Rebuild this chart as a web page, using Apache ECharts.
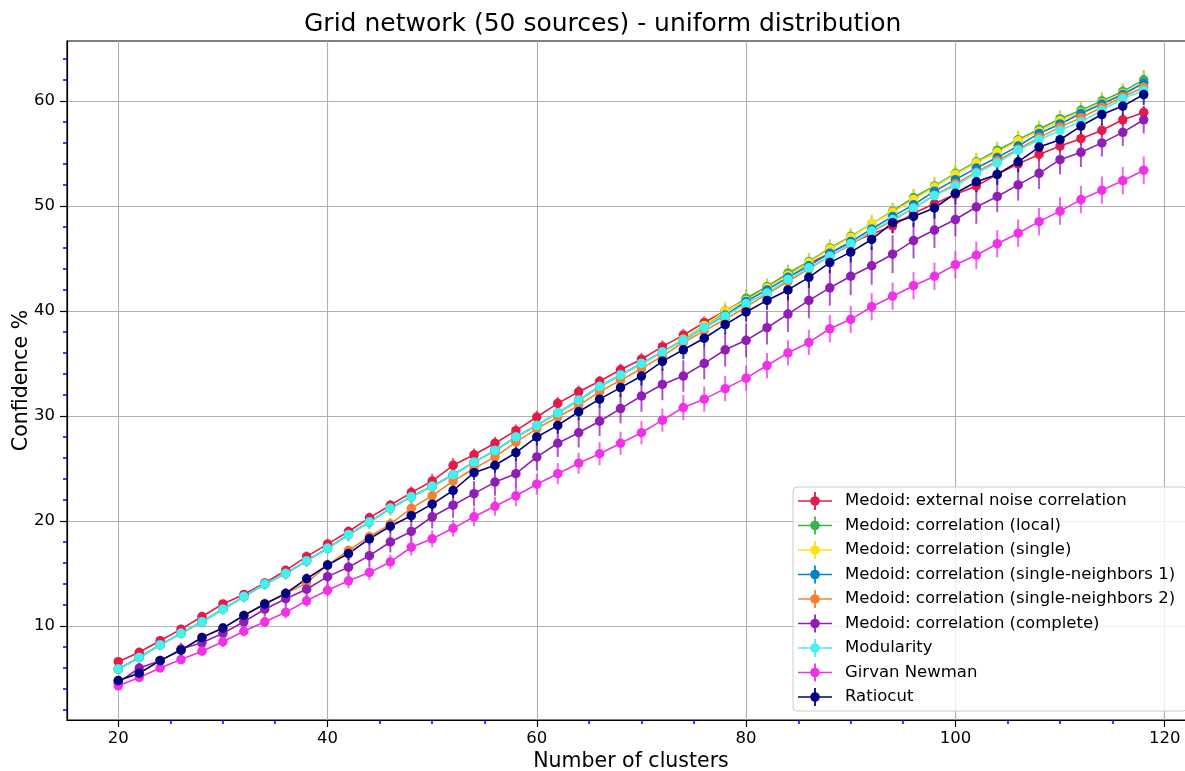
<!DOCTYPE html>
<html>
<head>
<meta charset="utf-8">
<script src="https://cdn.jsdelivr.net/npm/echarts@6/dist/echarts.min.js"></script>
<style>
  html, body { margin: 0; padding: 0; background: #ffffff; }
  #chart { width: 1185px; height: 771px; }
</style>
</head>
<body>
<div id="chart"></div>
<script>
// Number of clusters on the x axis
const clusters = [20,22,24,26,28,30,32,34,36,38,40,42,44,46,48,50,52,54,56,58,
                  60,62,64,66,68,70,72,74,76,78,80,82,84,86,88,90,92,94,96,98,
                  100,102,104,106,108,110,112,114,116,118];

// Mean confidence (%) per method
const externalNoise = [6.6,7.5,8.6,9.7,10.9,12.1,13.0,14.1,15.3,16.6,
  17.8,19.0,20.3,21.5,22.7,23.8,25.3,26.3,27.4,28.6,
  29.9,31.2,32.3,33.3,34.4,35.4,36.6,37.7,38.9,40.0,
  41.1,42.3,43.5,44.5,45.5,46.5,47.3,48.1,49.3,50.2,
  51.1,51.9,53.0,54.0,54.9,55.7,56.4,57.2,58.2,58.9];
const corrLocal = [5.9,7.0,8.2,9.3,10.4,11.6,12.8,14.0,15.0,16.2,
  17.4,18.7,19.9,21.2,22.3,23.3,24.4,25.6,26.7,28.0,
  29.1,30.3,31.5,32.8,33.9,35.0,36.1,37.3,38.6,39.9,
  41.2,42.3,43.6,44.7,46.0,47.1,48.3,49.5,50.8,51.9,
  53.1,54.2,55.3,56.3,57.3,58.3,59.1,60.0,60.9,62.0];
const corrSingle = [5.9,7.0,8.2,9.3,10.4,11.6,12.8,14.0,15.0,16.2,
  17.4,18.7,19.9,21.2,22.3,23.3,24.4,25.6,26.7,28.0,
  29.1,30.3,31.5,32.8,33.9,35.0,36.1,37.3,38.6,40.0,
  41.0,42.2,43.4,44.6,45.9,47.0,48.3,49.4,50.6,51.8,
  53.0,54.1,55.1,56.2,57.1,58.1,58.9,59.8,60.7,61.7];
const corrNeighbors1 = [5.9,7.0,8.2,9.3,10.4,11.6,12.8,14.0,15.0,16.2,
  17.4,18.7,19.9,21.2,22.3,23.3,24.4,25.6,26.7,28.0,
  29.1,30.3,31.5,32.8,33.9,35.0,36.1,37.2,38.4,39.6,
  40.9,42.0,43.2,44.3,45.5,46.6,47.8,49.0,50.1,51.4,
  52.5,53.6,54.6,55.7,56.9,57.8,58.8,59.7,60.6,61.7];
const corrNeighbors2 = [4.8,5.5,6.7,7.7,8.9,9.8,11.0,12.1,13.1,14.1,
  15.8,17.2,18.5,19.7,21.2,22.4,23.8,25.0,26.1,27.5,
  28.8,29.9,31.0,32.3,33.4,34.5,35.7,37.0,38.1,39.2,
  40.4,41.6,42.8,44.0,45.2,46.3,47.5,48.6,49.8,51.0,
  52.1,53.2,54.3,55.4,56.5,57.5,58.4,59.4,60.4,61.3];
const corrComplete = [4.6,6.0,6.7,7.8,8.4,9.3,10.4,11.6,12.6,13.5,
  14.7,15.6,16.7,18.0,19.0,20.4,21.5,22.6,23.7,24.5,
  26.1,27.4,28.4,29.5,30.7,31.9,33.0,33.8,35.0,36.3,
  37.2,38.4,39.7,41.0,42.2,43.3,44.3,45.4,46.7,47.7,
  48.7,49.9,50.9,52.0,53.1,54.4,55.1,56.0,57.0,58.2];
const modularity = [5.9,7.0,8.2,9.3,10.4,11.6,12.8,14.0,15.0,16.2,
  17.4,18.7,19.9,21.2,22.3,23.3,24.4,25.6,26.7,28.0,
  29.1,30.3,31.5,32.8,33.9,35.0,36.1,37.2,38.4,39.5,
  40.7,41.7,43.0,44.1,45.2,46.4,47.6,48.7,49.8,51.0,
  51.9,53.1,54.1,55.3,56.3,57.2,58.0,59.1,60.2,61.0];
const girvanNewman = [4.3,5.1,6.0,6.8,7.6,8.5,9.5,10.4,11.3,12.4,
  13.4,14.3,15.1,16.1,17.5,18.3,19.3,20.4,21.4,22.4,
  23.5,24.5,25.5,26.4,27.4,28.4,29.6,30.8,31.6,32.6,
  33.6,34.8,36.0,37.0,38.3,39.2,40.4,41.4,42.4,43.3,
  44.4,45.3,46.4,47.4,48.5,49.5,50.6,51.5,52.4,53.4];
const ratiocut = [4.8,5.5,6.7,7.7,8.9,9.8,11.0,12.1,13.1,14.5,
  15.8,16.9,18.3,19.5,20.5,21.6,22.9,24.6,25.3,26.5,
  28.0,29.1,30.4,31.6,32.7,33.8,35.2,36.3,37.4,38.7,
  39.9,41.0,42.0,43.2,44.6,45.6,46.8,48.4,49.0,49.8,
  51.2,52.3,53.0,54.2,55.6,56.3,57.6,58.7,59.5,60.6];

// Half-width of the error bar at each point
const errExternalNoise = [0.3,0.3,0.3,0.4,0.3,0.4,0.4,0.4,0.4,0.5,0.5,0.5,0.5,0.5,0.6,0.7,0.7,0.6,0.6,0.6,
  0.6,0.6,0.6,0.5,0.6,0.6,0.6,0.6,0.6,0.6,0.6,0.6,0.6,0.6,0.6,0.6,0.6,0.7,0.6,0.6,
  0.6,0.6,0.6,0.6,0.6,0.6,0.6,0.6,0.6,0.6];
const errCorrLocal = [0.3,0.3,0.4,0.4,0.4,0.4,0.5,0.5,0.5,0.5,0.5,0.6,0.6,0.6,0.6,0.6,0.6,0.6,0.7,0.7,
  0.7,0.7,0.7,0.7,0.7,0.7,0.7,0.8,0.8,0.8,0.8,0.8,0.8,0.8,0.8,0.8,0.8,0.8,0.8,0.8,
  0.8,0.8,0.8,0.8,0.8,0.8,0.8,0.8,0.8,0.9];
const errCorrSingle = [0.4,0.4,0.4,0.5,0.5,0.5,0.5,0.5,0.6,0.6,0.6,0.6,0.7,0.7,0.7,0.7,0.7,0.7,0.7,0.8,
  0.8,0.8,0.8,0.8,0.8,0.8,0.8,0.9,0.9,0.9,0.9,0.9,0.9,0.9,0.9,0.9,0.9,0.9,1.0,1.0,
  1.0,1.0,1.0,1.0,1.0,1.0,1.0,1.0,1.0,1.0];
const errCorrNeighbors1 = [0.3,0.3,0.3,0.4,0.4,0.4,0.4,0.4,0.5,0.5,0.5,0.5,0.5,0.5,0.6,0.6,0.6,0.6,0.6,0.6,
  0.6,0.6,0.6,0.7,0.7,0.7,0.7,0.7,0.7,0.7,0.7,0.7,0.7,0.7,0.7,0.7,0.8,0.8,0.8,0.8,
  0.8,0.8,0.8,0.8,0.8,0.8,0.8,0.8,0.8,0.8];
const errCorrNeighbors2 = [0.3,0.3,0.3,0.4,0.4,0.4,0.4,0.4,0.5,0.5,0.5,0.5,0.5,0.6,0.6,0.6,0.6,0.6,0.6,0.6,
  0.6,0.6,0.7,0.7,0.7,0.7,0.7,0.7,0.7,0.7,0.7,0.7,0.7,0.7,0.7,0.7,0.7,0.8,0.8,0.8,
  0.8,0.8,0.8,0.8,0.8,0.8,0.8,0.8,0.8,0.8];
const errCorrComplete = [0.4,0.5,0.5,0.6,0.6,0.6,0.7,0.7,0.8,0.8,0.9,0.9,1.0,1.0,1.1,1.1,1.2,1.2,1.3,1.4,
  1.3,1.3,1.4,1.4,1.4,1.5,1.5,1.5,1.5,1.6,1.6,1.6,1.7,1.7,1.7,1.8,1.8,1.8,1.7,1.7,
  1.6,1.6,1.5,1.5,1.5,1.4,1.4,1.3,1.3,1.3];
const errModularity = [0.4,0.4,0.5,0.5,0.5,0.5,0.6,0.6,0.6,0.6,0.6,0.7,0.7,0.7,0.7,0.7,0.7,0.7,0.7,0.7,
  0.8,0.8,0.8,0.8,0.8,0.8,0.8,0.8,0.8,0.8,0.8,0.8,0.8,0.8,0.8,0.8,0.8,0.8,0.9,0.9,
  0.9,0.9,0.9,0.9,0.9,0.9,0.9,0.9,0.9,0.9];
const errGirvanNewman = [0.3,0.3,0.4,0.4,0.4,0.5,0.5,0.5,0.6,0.6,0.6,0.7,0.7,0.7,0.8,0.8,0.8,0.9,0.9,1.0,
  1.0,1.0,1.0,1.1,1.1,1.1,1.1,1.2,1.2,1.2,1.2,1.2,1.2,1.2,1.3,1.3,1.3,1.3,1.3,1.3,
  1.3,1.3,1.3,1.3,1.3,1.3,1.3,1.3,1.3,1.3];
const errRatiocut = [0.3,0.3,0.3,0.4,0.4,0.4,0.4,0.5,0.5,0.5,0.5,0.6,0.6,0.6,0.6,0.7,0.7,0.7,0.7,0.8,
  0.8,0.8,0.8,0.8,0.9,0.9,0.9,0.9,0.9,0.9,0.9,0.9,1.0,1.0,1.0,1.0,1.0,1.0,1.0,1.0,
  1.0,1.0,1.0,1.0,1.0,1.0,1.0,1.0,1.0,1.0];

const seriesNames = [
  'Medoid: external noise correlation',
  'Medoid: correlation (local)',
  'Medoid: correlation (single)',
  'Medoid: correlation (single-neighbors 1)',
  'Medoid: correlation (single-neighbors 2)',
  'Medoid: correlation (complete)',
  'Modularity',
  'Girvan Newman',
  'Ratiocut'
];
const seriesColors = ['#e6194b','#3cb44b','#ffe119','#0082c8','#f58231','#911eb4','#46f0f0','#f032e6','#000080'];
const seriesValues = [externalNoise, corrLocal, corrSingle, corrNeighbors1, corrNeighbors2,
                      corrComplete, modularity, girvanNewman, ratiocut];
const seriesErrors = [errExternalNoise, errCorrLocal, errCorrSingle, errCorrNeighbors1, errCorrNeighbors2,
                      errCorrComplete, errModularity, errGirvanNewman, errRatiocut];

// Tick positions
const xMajorTicks = [20, 40, 60, 80, 100, 120];
const xMinorTicks = [25, 30, 35, 45, 50, 55, 65, 70, 75, 85, 90, 95, 105, 110, 115];
const yMajorTicks = [10, 20, 30, 40, 50, 60];
const yMinorTicks = [2, 4, 6, 8, 12, 14, 16, 18, 22, 24, 26, 28, 32, 34, 36, 38,
                     42, 44, 46, 48, 52, 54, 56, 58, 62, 64];

const FONT = 'DejaVu Sans';
const X_MIN = 15.1, X_MAX = 122.9, Y_MIN = 1.05, Y_MAX = 65.7;

// Legend glyph: horizontal line, vertical error bar and a dot
const legendGlyph = 'path://M0 8.2H34V9.8H0Z M16.1 0H17.9V18H16.1Z ' +
  'M21.8 9A4.8 4.8 0 1 1 12.2 9A4.8 4.8 0 1 1 21.8 9Z';

const series = [];
seriesNames.forEach(function (name, k) {
  const color = seriesColors[k];
  const vals = seriesValues[k];
  const errs = seriesErrors[k];
  series.push({
    type: 'custom',
    name: name + ' error',
    silent: true,
    animation: false,
    clip: true,
    data: clusters.map(function (x, i) { return [x, vals[i] - errs[i], vals[i] + errs[i]]; }),
    encode: { x: 0, y: [1, 2] },
    renderItem: function (params, api) {
      const lo = api.coord([api.value(0), api.value(1)]);
      const hi = api.coord([api.value(0), api.value(2)]);
      return {
        type: 'line',
        shape: { x1: lo[0], y1: lo[1], x2: hi[0], y2: hi[1] },
        style: { stroke: color, lineWidth: 2, opacity: 0.75 }
      };
    }
  });
  series.push({
    type: 'line',
    name: name,
    data: clusters.map(function (x, i) { return [x, vals[i]]; }),
    symbol: 'circle',
    symbolSize: 9.5,
    showSymbol: true,
    lineStyle: { width: 1.6, color: color },
    itemStyle: { color: color, borderWidth: 0 },
    emphasis: { disabled: true },
    animation: false
  });
});

const chart = echarts.init(document.getElementById('chart'), null, { renderer: 'canvas' });
chart.setOption({
  backgroundColor: '#ffffff',
  textStyle: { fontFamily: FONT },
  grid: {
    left: 67, right: -10, top: 41, bottom: 51,
    outerBoundsMode: 'none',
    containLabel: false,
    show: true, borderColor: '#000000', borderWidth: 1.2, backgroundColor: 'transparent'
  },
  graphic: [{
    type: 'text',
    left: 603 - 299, top: 12,
    style: {
      text: 'Grid network (50 sources) - uniform distribution',
      font: '25px "DejaVu Sans"', fill: '#000000'
    }
  }],
  legend: {
    orient: 'vertical',
    left: 793, top: 487,
    data: seriesNames.map(function (n, i) {
      return { name: n, icon: legendGlyph, itemStyle: { color: seriesColors[i], borderWidth: 0 } };
    }),
    itemWidth: 34, itemHeight: 20, itemGap: 4.5,
    symbolKeepAspect: true,
    textStyle: { fontFamily: FONT, fontSize: 16.5, color: '#000000', padding: [0, 0, 0, 8], lineHeight: 20 },
    backgroundColor: 'rgba(255,255,255,0.8)',
    borderColor: '#cccccc', borderWidth: 1, borderRadius: 4,
    padding: [4, 12, 4, 5],
    selectedMode: false
  },
  xAxis: [{
    type: 'value', min: X_MIN, max: X_MAX,
    name: 'Number of clusters', nameLocation: 'middle', nameGap: 31, nameMoveOverlap: false,
    nameTextStyle: { fontFamily: FONT, fontSize: 20.5, color: '#000000' },
    axisLine: { show: true, onZero: false, lineStyle: { color: '#000000', width: 1.2 } },
    axisTick: { show: true, length: 7, customValues: xMajorTicks, lineStyle: { color: '#000000', width: 1.2 } },
    axisLabel: { customValues: xMajorTicks, fontFamily: FONT, fontSize: 16.5, color: '#000000', margin: 10 },
    splitLine: { show: true, lineStyle: { color: '#b0b0b0', width: 1.1 } }
  }, {
    type: 'value', min: X_MIN, max: X_MAX, position: 'bottom',
    axisLine: { show: false },
    axisTick: { show: true, length: 4, customValues: xMinorTicks, lineStyle: { color: '#0000ff', width: 1.5 } },
    axisLabel: { show: false },
    splitLine: { show: false }
  }],
  yAxis: [{
    type: 'value', min: Y_MIN, max: Y_MAX,
    name: 'Confidence %', nameLocation: 'middle', nameGap: 35, nameMoveOverlap: false,
    nameTextStyle: { fontFamily: FONT, fontSize: 20.5, color: '#000000' },
    axisLine: { show: true, onZero: false, lineStyle: { color: '#000000', width: 1.2 } },
    axisTick: { show: true, length: 7, customValues: yMajorTicks, lineStyle: { color: '#000000', width: 1.2 } },
    axisLabel: { customValues: yMajorTicks, fontFamily: FONT, fontSize: 16.5, color: '#000000', margin: 12 },
    splitLine: { show: true, lineStyle: { color: '#b0b0b0', width: 1.1 } }
  }, {
    type: 'value', min: Y_MIN, max: Y_MAX, position: 'left',
    axisLine: { show: false },
    axisTick: { show: true, length: 4, customValues: yMinorTicks, lineStyle: { color: '#0000ff', width: 1.5 } },
    axisLabel: { show: false },
    splitLine: { show: false }
  }],
  series: series
});
</script>
</body>
</html>
